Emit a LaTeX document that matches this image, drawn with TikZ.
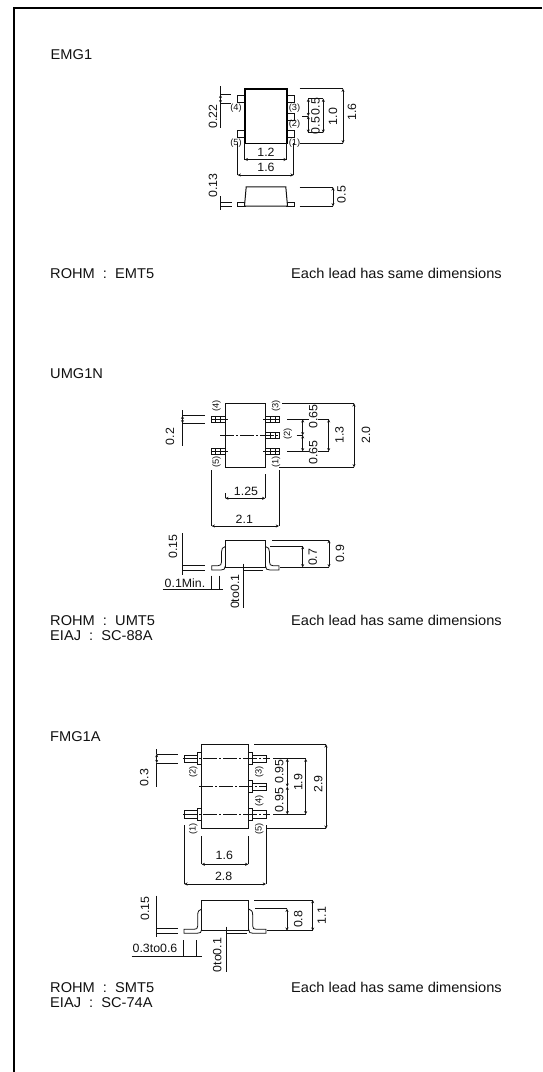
\documentclass[tikz,border=0pt]{standalone}
\usepackage{fontspec}
\setmainfont[FakeStretch=1.03]{Liberation Sans}
\usetikzlibrary{arrows.meta}
\definecolor{ink}{HTML}{111111}
\tikzset{
  txt/.style={font=\fontsize{14.2}{16}\selectfont,text=ink,inner sep=0pt},
  lab/.style={txt,anchor=base west},
  dm/.style={font=\fontsize{12}{14}\selectfont,text=ink,inner sep=0pt},
  vdm/.style={dm,rotate=90},
  pin/.style={font=\fontsize{9}{10}\selectfont,text=ink,inner sep=0pt},
  vpin/.style={pin,rotate=90},
  ln/.style={draw=ink,line width=0.8pt},
  ext/.style={draw=ink,line width=0.7pt},
  dimline/.style={draw=ink,line width=0.8pt,{Stealth[length=3.2pt,width=3pt]}-{Stealth[length=3.2pt,width=3pt]}},
  cl/.style={draw=ink,line width=0.7pt,dash pattern=on 14pt off 2pt on 2pt off 2pt},
  thick body/.style={draw=black,line width=1.6pt,fill=white},
  bodyl/.style={draw=ink,line width=1pt},
  frame/.style={draw=black,line width=2pt}
}
\begin{document}
\begin{tikzpicture}[x=1pt,y=-1pt]
\useasboundingbox (0,0) rectangle (542,1072);
% frame
\draw[frame] (13.5,1072) -- (13.5,8) -- (542,8);

% ---------- EMG1 ----------
\node[lab] (t1) at (50.5,59) {EMG1};
\foreach \y in {95,130} \draw[ln] (237.5,\y) rectangle (245,\y+7);
\foreach \y in {95,113.3,130} \draw[ln] (286.5,\y) rectangle (294,\y+7);
\draw[thick body] (244.7,88.7) rectangle (286.7,143.3);
\node[pin] (e4) at (236,108) {(4)};
\node[pin] (e5) at (236,143.5) {(5)};
\node[pin] (e3) at (294.5,107.7) {(3)};
\node[pin] (e2) at (294.5,124.5) {(2)};
\node[pin] (e1) at (294.5,143.5) {(1)};
% 1.6 vertical
\draw[ext] (299.7,88.7) -- (343,88.7) (299.7,143.3) -- (343,143.3);
\draw[dimline] (343,88.7) -- (343,143.3);
\node[vdm] (e16v) at (352,112) {1.6};
% 1.0
\draw[ext] (308,98.7) -- (323.3,98.7) (308,132.7) -- (323.3,132.7);
\draw[dimline] (323.3,98.7) -- (323.3,132.7);
\node[vdm] (e10) at (333,116.5) {1.0};
% 0.5 0.5
\draw[dimline] (308.3,98.7) -- (308.3,116);
\draw[dimline] (308.3,116) -- (308.3,132.7);
\draw[ext] (302,116) -- (308.3,116);
\node[vdm] (e05a) at (315.5,106.5) {0.5};
\node[vdm] (e05b) at (315.5,125.5) {0.5};
% 1.2
\draw[ext] (244.7,143) -- (244.7,159.5) (286.7,143) -- (286.7,159.5);
\draw[dimline] (244.7,159.5) -- (286.7,159.5);
\node[dm] (e12) at (266,152) {1.2};
% 1.6 horiz
\draw[ext] (237.7,143) -- (237.7,175) (293.7,143) -- (293.7,175);
\draw[dimline] (237.7,175) -- (293.7,175);
\node[dm] (e16h) at (266,167.5) {1.6};
% 0.22
\draw[ext] (220.5,94.7) -- (231,94.7) (220.5,103.3) -- (231,103.3);
\draw[ext] (220.5,86) -- (220.5,94.7) (220.5,103.3) -- (220.5,128);
\draw[dimline] (220.5,94.7) -- (220.5,103.3);
\node[vdm] (e022) at (213,116.5) {0.22};
% side
\draw[ln] (237.5,202.3) rectangle (245,206.3);
\draw[ln] (286.5,202.3) rectangle (294,206.3);
\draw[bodyl,fill=white] (244.5,206) -- (246.2,186.8) -- (285.8,186.8) -- (287.5,206) -- cycle;
\draw[ext] (299.7,187.3) -- (333,187.3) (299.7,206.3) -- (333,206.3);
\draw[dimline] (333,187.3) -- (333,206.3);
\node[vdm] (e05s) at (341.5,194.5) {0.5};
\draw[ext] (220.5,202.3) -- (232,202.3) (220.5,206) -- (232,206);
\draw[ext] (220.5,196) -- (220.5,210);
\node[vdm] (e013) at (213,185.5) {0.13};
\node[lab] (r1) at (50,278) {ROHM\ \ :\ \ EMT5};
\node[lab] (n1) at (291,278) {Each lead has same dimensions};

% ---------- UMG1N ----------
\node[lab] (t2) at (50,378) {UMG1N};
\foreach \y in {419.3,451.3} {
  \draw[ln] (211.7,\y-3) rectangle (225.3,\y+3);
  \draw[ext] (215,\y-3) -- (215,\y+3) (220.7,\y-3) -- (220.7,\y+3);
  \draw[ext] (211.7,\y) -- (227.5,\y);
}
\foreach \y in {419.3,435.3,451.3} {
  \draw[ln] (265.3,\y-3) rectangle (279,\y+3);
  \draw[ext] (270,\y-3) -- (270,\y+3) (275,\y-3) -- (275,\y+3);
}
\foreach \y in {419.3,451.3} \draw[ext] (263,\y) -- (279,\y);
\draw[bodyl] (225.3,403.3) rectangle (265.3,467.3);
\draw[cl] (220,435.3) -- (279,435.3);
\node[vpin] (u4) at (216.5,405.7) {(4)};
\node[vpin] (u5) at (216.5,462.3) {(5)};
\node[vpin] (u3) at (276,405.7) {(3)};
\node[vpin] (u2) at (287.7,434) {(2)};
\node[vpin] (u1) at (276,462.3) {(1)};
% 2.0
\draw[ext] (282,403.3) -- (354,403.3) (279,467.3) -- (354,467.3);
\draw[dimline] (354,403.3) -- (354,467.3);
\node[vdm] (u20) at (366,435) {2.0};
% 1.3
\draw[ext] (287.3,419.3) -- (328.7,419.3) (287.3,451.3) -- (328.7,451.3);
\draw[dimline] (328.7,419.3) -- (328.7,451.3);
\node[vdm] (u13) at (339.5,435) {1.3};
% 0.65
\draw[dimline] (302.7,419.3) -- (302.7,435.3);
\draw[dimline] (302.7,435.3) -- (302.7,451.3);
\draw[ext] (296.7,435.3) -- (302.7,435.3);
\node[fill=white,vdm] (u065a) at (313.3,416.7) {0.65};
\node[fill=white,vdm] (u065b) at (313.3,452.3) {0.65};
% 1.25
\draw[ext] (225.3,493) -- (225.3,498.3) (265.3,474) -- (265.3,498.3);
\draw[dimline] (225.3,498.3) -- (265.3,498.3);
\node[dm] (u125) at (246,491) {1.25};
% 2.1
\draw[ext] (211.7,470) -- (211.7,526) (279,470) -- (279,526);
\draw[dimline] (211.7,526) -- (279,526);
\node[dm] (u21) at (244.3,519.5) {2.1};
% 0.2
\draw[ext] (182.5,415.7) -- (205,415.7) (182.5,423.3) -- (205,423.3);
\draw[ext] (182.5,410) -- (182.5,415.7) (182.5,423.3) -- (182.5,446);
\draw[dimline] (182.5,415.7) -- (182.5,423.3);
\node[vdm] (u02) at (170,436.5) {0.2};
% side
\draw[bodyl] (225.3,567.3) -- (225.3,540) -- (265.5,540) -- (265.5,567.3);
\draw[ln] (225.3,567.3) -- (265.5,567.3);
\draw[ln] (225.3,546.5) .. controls (222.5,547) and (221.5,549) .. (221.5,552) -- (221.5,562) .. controls (221.5,564.5) and (220.5,565.7) .. (218,565.7) -- (211.7,565.7) -- (211.7,570) -- (221,570) .. controls (224,570) and (225.3,569) .. (225.3,566);
\draw[ln] (265.5,546.5) .. controls (268.5,547) and (269.5,549) .. (269.5,552) -- (269.5,562) .. controls (269.5,564.5) and (270.5,565.7) .. (273,565.7) -- (279,565.7) -- (279,570) -- (270,570) .. controls (267,570) and (265.5,569) .. (265.5,566);
\draw[ext] (272.3,540) -- (329,540) (280,567.3) -- (329,567.3);
\draw[dimline] (329,540) -- (329,567.3);
\node[vdm] (u09) at (340,553.5) {0.9};
\draw[ext] (270,546) -- (302.7,546) (281,567.3) -- (302.7,567.3);
\draw[dimline] (302.7,546) -- (302.7,567.3);
\node[vdm] (u07) at (312.7,557.3) {0.7};
\draw[ext] (182.3,565.7) -- (205,565.7) (182.3,570) -- (205,570);
\draw[ext] (182.3,533) -- (182.3,575);
\node[vdm] (u015) at (173,546.7) {0.15};
\draw[ext] (211.7,575.7) -- (211.7,589) (219.3,575.7) -- (219.3,589);
\draw[ext] (162.7,589) -- (223,589);
\node[dm] (u01m) at (185,583.3) {0.1Min.};
\draw[ext] (243,570) -- (263,570);
\draw[ext] (243,563.5) -- (243,608.3);
\node[vdm] (u001) at (235,591.7) {0to0.1};
\node[lab] (r2) at (50,625.5) {ROHM\ \ :\ \ UMT5};
\node[lab] (r2b) at (50,640.5) {EIAJ\ \ :\ \ SC-88A};
\node[lab] (n2) at (291,625.5) {Each lead has same dimensions};

% ---------- FMG1A ----------
\node[lab] (t3) at (50,741) {FMG1A};
\foreach \y in {758.7,814.3} {
  \draw[ln] (184,\y-3.7) rectangle (197.3,\y+3.7);
  \draw[ln] (197.3,\y-6) rectangle (201.7,\y+6);
}
\foreach \y in {758.7,786.7,814.3} {
  \draw[ln] (252.7,\y-3.7) rectangle (266,\y+3.7);
  \draw[ln] (248.3,\y-6) rectangle (252.7,\y+6);
}
\draw[bodyl] (201.7,744.3) rectangle (248.3,828.7);
\draw[cl] (183,758.7) -- (270,758.7);
\draw[cl] (199.3,786.7) -- (266,786.7);
\draw[cl] (183,814.3) -- (270,814.3);
\node[vpin] (f2) at (193.3,771.7) {(2)};
\node[vpin] (f1) at (193.3,829) {(1)};
\node[vpin] (f3) at (259.3,771.7) {(3)};
\node[vpin] (f4) at (259.3,800.7) {(4)};
\node[vpin] (f5) at (259.3,829) {(5)};
% 2.9
\draw[ext] (254,744.3) -- (326,744.3) (266,828.7) -- (326,828.7);
\draw[dimline] (326,744.3) -- (326,828.7);
\node[vdm] (f29) at (318.3,784) {2.9};
% 1.9
\draw[ext] (273.3,758.7) -- (305.7,758.7) (273.3,814.3) -- (305.7,814.3);
\draw[dimline] (305.7,758.7) -- (305.7,814.3);
\node[vdm] (f19) at (298.3,782.3) {1.9};
% 0.95
\draw[dimline] (287.3,758.7) -- (287.3,786.7);
\draw[dimline] (287.3,786.7) -- (287.3,814.3);
\node[vdm] (f095a) at (279.3,771.7) {0.95};
\node[vdm] (f095b) at (279.3,800) {0.95};
% 1.6
\draw[ext] (201.7,836) -- (201.7,864.3) (248.3,836) -- (248.3,864.3);
\draw[dimline] (201.7,864.3) -- (248.3,864.3);
\node[dm] (f16) at (224.3,855) {1.6};
% 2.8
\draw[ext] (184.3,825) -- (184.3,884) (266,825) -- (266,884);
\draw[dimline] (184.3,884) -- (266,884);
\node[dm] (f28) at (223.7,876) {2.8};
% 0.3
\draw[ext] (156.7,754) -- (178.3,754) (156.7,763) -- (178.3,763);
\draw[ext] (156.7,749) -- (156.7,754) (156.7,763) -- (156.7,786.7);
\draw[dimline] (156.7,754) -- (156.7,763);
\node[vdm] (f03) at (144.3,777.7) {0.3};
% side
\draw[bodyl] (201.7,930.7) -- (201.7,900) -- (248.7,900) -- (248.7,930.7);
\draw[ln] (201.7,930.7) -- (248.7,930.7);
\draw[ln] (201.7,909) .. controls (199,909.5) and (197.7,911.5) .. (197.7,915) -- (197.7,926) .. controls (197.7,928.5) and (196.7,929.3) .. (194,929.3) -- (184,929.3) -- (184,933.3) -- (197,933.3) .. controls (200,933.3) and (201.7,932.5) .. (201.7,929.5);
\draw[ln] (248.7,909) .. controls (251.5,909.5) and (252.7,911.5) .. (252.7,915) -- (252.7,926) .. controls (252.7,928.5) and (253.7,929.3) .. (256.5,929.3) -- (266,929.3) -- (266,933.3) -- (253,933.3) .. controls (250,933.3) and (248.7,932.5) .. (248.7,929.5);
\draw[ext] (254,900) -- (312.7,900) (267,930.7) -- (312.7,930.7);
\draw[dimline] (312.7,900) -- (312.7,930.7);
\node[vdm] (f11) at (321.7,915.7) {1.1};
\draw[ext] (255,908.7) -- (287,908.7) (268,930.7) -- (287,930.7);
\draw[dimline] (287,908.7) -- (287,930.7);
\node[vdm] (f08) at (298.3,919.3) {0.8};
\draw[ext] (156,928.7) -- (178.3,928.7) (156,933.3) -- (178.3,933.3);
\draw[ext] (156,895.7) -- (156,936.7);
\node[vdm] (f015) at (145,908.3) {0.15};
\draw[ext] (183.3,940) -- (183.3,956.3) (196,940) -- (196,956.3);
\draw[ext] (131.7,956.3) -- (201.7,956.3);
\node[dm] (f036) at (155,948.3) {0.3to0.6};
\draw[ext] (226,933.3) -- (246.7,933.3);
\draw[ext] (226,926.7) -- (226,971.7);
\node[vdm] (f001) at (217.3,955) {0to0.1};
\node[lab] (r3) at (50,992.5) {ROHM\ \ :\ \ SMT5};
\node[lab] (r3b) at (50,1007.5) {EIAJ\ \ :\ \ SC-74A};
\node[lab] (n3) at (291,992.5) {Each lead has same dimensions};
\end{tikzpicture}
\end{document}
